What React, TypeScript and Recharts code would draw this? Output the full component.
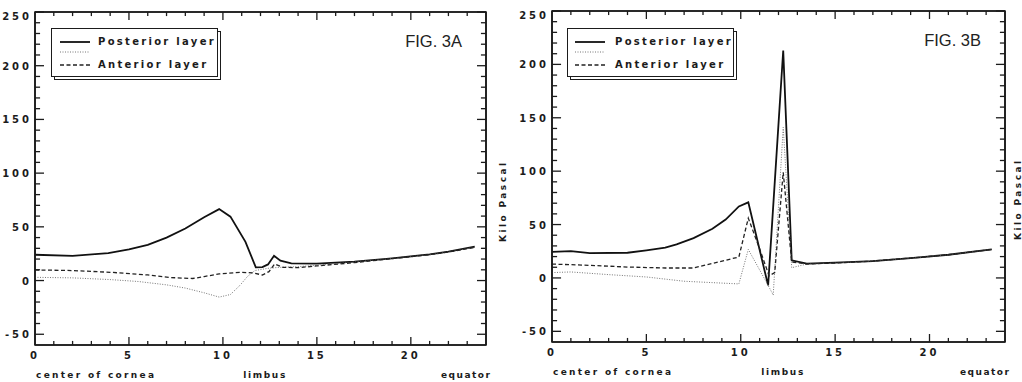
import React from "react";
import { LineChart, Line, XAxis, YAxis, Legend, Label, ReferenceArea, ReferenceLine } from "recharts";

// distance from center of cornea (mm) vs. stress (kilo pascal)
const posteriorA = [
  { x: 0, y: 24 }, { x: 2, y: 23 }, { x: 3.9, y: 25.6 }, { x: 5, y: 29 },
  { x: 6, y: 33.3 }, { x: 7, y: 40 }, { x: 8, y: 48.5 }, { x: 9, y: 59 },
  { x: 9.8, y: 66.5 }, { x: 10.4, y: 59.5 }, { x: 11.2, y: 36 }, { x: 11.75, y: 12.3 },
  { x: 12.1, y: 12.5 }, { x: 12.4, y: 15 }, { x: 12.72, y: 23 }, { x: 13.06, y: 18.5 },
  { x: 13.64, y: 16 }, { x: 15, y: 15.7 }, { x: 17, y: 17.6 }, { x: 19, y: 20.7 },
  { x: 21, y: 24.4 }, { x: 22, y: 26.9 }, { x: 23.4, y: 31.5 },
];
const middleA = [
  { x: 0, y: 3 }, { x: 2, y: 2.5 }, { x: 4, y: 0.9 }, { x: 5.5, y: -0.9 },
  { x: 7, y: -4 }, { x: 8, y: -7 }, { x: 9, y: -11.4 }, { x: 9.8, y: -15.4 },
  { x: 10.4, y: -13 }, { x: 10.9, y: -4.6 }, { x: 11.3, y: 3.7 }, { x: 11.7, y: 9.3 },
  { x: 12.4, y: 11.4 }, { x: 13, y: 12.3 }, { x: 14, y: 13 }, { x: 15, y: 14.2 },
  { x: 17, y: 17.3 }, { x: 19, y: 20.5 }, { x: 21, y: 24 }, { x: 22, y: 26.6 },
  { x: 23.4, y: 31 },
];
const anteriorA = [
  { x: 0, y: 9.9 }, { x: 2, y: 9.3 }, { x: 4, y: 7.7 }, { x: 6, y: 5.2 },
  { x: 7.2, y: 2.8 }, { x: 8.4, y: 1.9 }, { x: 9, y: 3.7 }, { x: 9.8, y: 6.2 },
  { x: 11, y: 7.7 }, { x: 11.6, y: 7.1 }, { x: 12.1, y: 5.2 }, { x: 12.45, y: 8.3 },
  { x: 12.75, y: 15.4 }, { x: 13.2, y: 12.3 }, { x: 14, y: 12 }, { x: 15, y: 13.6 },
  { x: 17, y: 16.7 }, { x: 19, y: 20.4 }, { x: 21, y: 24.1 }, { x: 22, y: 26.5 },
  { x: 23.4, y: 30.9 },
];

const posteriorB = [
  { x: 0, y: 24.5 }, { x: 1, y: 25.2 }, { x: 2, y: 23.3 }, { x: 4, y: 23.6 },
  { x: 5, y: 25.8 }, { x: 6, y: 28.3 }, { x: 6.6, y: 31.4 }, { x: 7.5, y: 37.3 },
  { x: 8.5, y: 46 }, { x: 9.2, y: 54.7 }, { x: 9.9, y: 67 }, { x: 10.4, y: 70.8 },
  { x: 11.45, y: -7 }, { x: 12.25, y: 213 }, { x: 12.7, y: 16.5 }, { x: 13.5, y: 13.4 },
  { x: 15, y: 14.3 }, { x: 17, y: 15.8 }, { x: 19, y: 18.6 }, { x: 21, y: 21.7 },
  { x: 23.3, y: 26.7 },
];
const middleB = [
  { x: 0, y: 5 }, { x: 1, y: 5.6 }, { x: 3, y: 3.1 }, { x: 5, y: 0.9 },
  { x: 7, y: -3.1 }, { x: 9.9, y: -5.6 }, { x: 10.4, y: 26.7 }, { x: 11.4, y: -5.3 },
  { x: 11.72, y: -16 }, { x: 12.25, y: 141 }, { x: 12.7, y: 9.6 }, { x: 13.5, y: 13 },
  { x: 15, y: 14 }, { x: 17, y: 15.8 }, { x: 19, y: 18.6 }, { x: 21, y: 21.7 },
  { x: 23.3, y: 26.7 },
];
const anteriorB = [
  { x: 0, y: 13 }, { x: 2, y: 11.8 }, { x: 4, y: 10.2 }, { x: 6, y: 9.3 },
  { x: 7.5, y: 9.3 }, { x: 9.9, y: 19.6 }, { x: 10.4, y: 56 }, { x: 11, y: 27.3 },
  { x: 11.5, y: 2 }, { x: 11.8, y: 5 }, { x: 12.25, y: 99 }, { x: 12.7, y: 15 },
  { x: 13.5, y: 13 }, { x: 15, y: 14 }, { x: 17, y: 15.8 }, { x: 19, y: 18.6 },
  { x: 21, y: 21.7 }, { x: 23.3, y: 26.7 },
];

const xTicks = [0, 1, 2, 3, 4, 5, 6, 7, 8, 9, 10, 11, 12, 13, 14, 15, 16, 17, 18, 19, 20, 21, 22, 23];
const xLabels = [0, 5, 10, 15, 20];
const yTicks = [-50, -40, -30, -20, -10, 0, 10, 20, 30, 40, 50, 60, 70, 80, 90, 100, 110, 120, 130, 140, 150, 160, 170, 180, 190, 200, 210, 220, 230, 240, 250];
const yLabels = [-50, 0, 50, 100, 150, 200, 250];
const legendOrder = ["Posterior layer", "", "Anterior layer"];

const INK = "#1b1b1b";
const TM = 6;
const X_MIN = 0;
const X_MAX = 24;
const Y_MIN = -60;
const Y_MAX = 250;
const boldFont = "'DejaVu Sans', Verdana, sans-serif";

// tick mark lengths, in axis units (≈ 4/8 px vertically, 5/9 px horizontally)
const X_TICK_LEN = { minor: 3.8, major: 7.5 };
const Y_TICK_LEN = { minor: 0.27, major: 0.48 };

function BottomTick(props: any) {
  const { x, y, payload } = props;
  const v = payload.value;
  if (!xLabels.includes(v)) return <g />;
  return (
    <text x={x} y={y - TM + 14} textAnchor="middle" fill={INK} fontFamily={boldFont} fontWeight={700} fontSize={10} letterSpacing={3}>
      {v}
    </text>
  );
}

function LeftTick(props: any) {
  const { x, y, payload } = props;
  const v = payload.value;
  if (!yLabels.includes(v)) return <g />;
  return (
    <text x={x + TM - 3} y={v === 250 ? y + 4 : y} dy={4} textAnchor="end" fill={INK} fontFamily={boldFont} fontWeight={700} fontSize={10} letterSpacing={3}>
      {v}
    </text>
  );
}

function LegendBox(props: any) {
  const { payload, sampleLeft, textLeft } = props;
  const rowTops = [7, 17, 30];
  const items = [...(payload || [])].sort(
    (a: any, b: any) => legendOrder.indexOf(a.payload?.name ?? "") - legendOrder.indexOf(b.payload?.name ?? "")
  );
  return (
    <div style={{ position: "relative", width: 170, height: 52 }}>
      <div style={{ position: "absolute", left: 3, top: 3, width: 167, height: 49, border: `1.5px solid ${INK}`, boxSizing: "border-box", background: "#fff" }} />
      <div style={{ position: "absolute", left: 0, top: 0, width: 167, height: 49, border: `1.5px solid ${INK}`, boxSizing: "border-box", background: "#fff" }}>
        {items.map((entry: any, i: number) => {
          const p = entry.payload || {};
          return (
            <div key={i} style={{ position: "absolute", top: rowTops[i], left: 0, height: 12, width: 165 }}>
              <svg width={40} height={12} style={{ position: "absolute", left: sampleLeft, top: 0 }}>
                <line x1={0} x2={30} y1={6} y2={6} stroke={p.stroke} strokeWidth={p.strokeWidth} strokeDasharray={p.strokeDasharray} />
              </svg>
              <span style={{ position: "absolute", left: textLeft, top: -1, fontFamily: boldFont, fontWeight: 700, fontSize: 10, letterSpacing: 2.3, color: INK, whiteSpace: "nowrap", lineHeight: "14px" }}>
                {p.name}
              </span>
            </div>
          );
        })}
      </div>
    </div>
  );
}

type PanelProps = {
  posterior: { x: number; y: number }[];
  middle: { x: number; y: number }[];
  anterior: { x: number; y: number }[];
  fig: string;
  top: number;
  right: number;
  yWidth: number;
  xHeight: number;
  legendLeft: number;
  sampleLeft: number;
  textLeft: number;
  unitOffset: number;
};

function Panel(p: PanelProps) {
  const tickStyle = { stroke: INK, strokeWidth: 1.3, ifOverflow: "visible" as const };
  return (
    <LineChart width={511} height={382} margin={{ top: p.top - 1, right: p.right - 1, bottom: 0, left: 0 }}>
      <XAxis
        dataKey="x"
        type="number"
        domain={[X_MIN, X_MAX]}
        ticks={xTicks}
        interval={0}
        height={p.xHeight}
        tickSize={0}
        tickMargin={TM}
        tickLine={false}
        tick={BottomTick}
        stroke={INK}
        strokeWidth={1.6}
      >
        <Label
          content={(lp: any) => {
            const vb = lp.viewBox;
            const base = vb.y + 33;
            const txt = { fill: INK, fontFamily: boldFont, fontWeight: 700, fontSize: 9, lengthAdjust: "spacing" as const };
            return (
              <g>
                <text x={vb.x + 1} y={base} textLength={118} {...txt}>center of cornea</text>
                <text x={vb.x + vb.width * (12.2 / 24) - 21} y={base} textLength={42} {...txt}>limbus</text>
                <text x={vb.x + vb.width + 4 - 49} y={base} textLength={49} {...txt}>equator</text>
              </g>
            );
          }}
        />
      </XAxis>
      <XAxis
        xAxisId="top"
        orientation="top"
        type="number"
        domain={[X_MIN, X_MAX]}
        height={1}
        tick={false}
        tickLine={false}
        stroke={INK}
        strokeWidth={1.6}
      >
        <Label
          content={(lp: any) => {
            const vb = lp.viewBox;
            return (
              <text x={vb.x + vb.width - 24} y={vb.y + 36} textAnchor="end" fill="#222" fontFamily="'Liberation Sans', Arial, sans-serif" fontSize={16.5}>
                {p.fig}
              </text>
            );
          }}
        />
      </XAxis>
      <YAxis
        type="number"
        domain={[Y_MIN, Y_MAX]}
        ticks={yTicks}
        interval={0}
        width={p.yWidth}
        tickSize={0}
        tickMargin={TM}
        tickLine={false}
        tick={LeftTick}
        stroke={INK}
        strokeWidth={1.6}
      />
      <YAxis
        yAxisId="right"
        orientation="right"
        type="number"
        domain={[Y_MIN, Y_MAX]}
        width={1}
        tick={false}
        tickLine={false}
        stroke={INK}
        strokeWidth={1.6}
      >
        <Label
          content={(lp: any) => {
            const vb = lp.viewBox;
            const cx = vb.x + p.unitOffset;
            const cy = vb.y + vb.height / 2 + 24;
            return (
              <text x={cx} y={cy} transform={`rotate(-90 ${cx} ${cy})`} textAnchor="middle" dy={3} fill={INK} fontFamily={boldFont} fontWeight={700} fontSize={9} textLength={79} lengthAdjust="spacing">
                Kilo Pascal
              </text>
            );
          }}
        />
      </YAxis>

      {/* plot frame */}
      <ReferenceArea x1={X_MIN} x2={X_MAX} y1={Y_MIN} y2={Y_MAX} fill="none" fillOpacity={0} stroke={INK} strokeWidth={1.6} ifOverflow="visible" />

      {/* inward ticks on bottom and top */}
      {xTicks.filter((v) => v > X_MIN).map((v) => {
        const len = xLabels.includes(v) ? X_TICK_LEN.major : X_TICK_LEN.minor;
        return (
          <ReferenceLine key={`xb${v}`} segment={[{ x: v, y: Y_MIN }, { x: v, y: Y_MIN + len }]} {...tickStyle} />
        );
      })}
      {xTicks.filter((v) => v > X_MIN).map((v) => {
        const len = xLabels.includes(v) ? X_TICK_LEN.major : X_TICK_LEN.minor;
        return (
          <ReferenceLine key={`xt${v}`} segment={[{ x: v, y: Y_MAX }, { x: v, y: Y_MAX - len }]} {...tickStyle} />
        );
      })}
      {/* inward ticks on left and right */}
      {yTicks.map((v) => {
        const len = yLabels.includes(v) ? Y_TICK_LEN.major : Y_TICK_LEN.minor;
        return (
          <ReferenceLine key={`yl${v}`} segment={[{ x: X_MIN, y: v }, { x: X_MIN + len, y: v }]} {...tickStyle} />
        );
      })}
      {yTicks.map((v) => {
        const len = yLabels.includes(v) ? Y_TICK_LEN.major : Y_TICK_LEN.minor;
        return (
          <ReferenceLine key={`yr${v}`} segment={[{ x: X_MAX, y: v }, { x: X_MAX - len, y: v }]} {...tickStyle} />
        );
      })}

      <Legend
        layout="vertical"
        align="center"
        verticalAlign="middle"
        wrapperStyle={{ left: p.legendLeft, top: 28, width: "auto", height: "auto" }}
        content={(lp: any) => <LegendBox {...lp} sampleLeft={p.sampleLeft} textLeft={p.textLeft} />}
      />
      <Line data={p.posterior} dataKey="y" name="Posterior layer" type="linear" stroke="#111" strokeWidth={1.8} dot={false} activeDot={false} isAnimationActive={false} />
      <Line data={p.middle} dataKey="y" name="" type="linear" stroke="#666" strokeWidth={0.9} strokeDasharray="1 1.5" dot={false} activeDot={false} isAnimationActive={false} />
      <Line data={p.anterior} dataKey="y" name="Anterior layer" type="linear" stroke="#222" strokeWidth={1.3} strokeDasharray="4 2.5" dot={false} activeDot={false} isAnimationActive={false} />
    </LineChart>
  );
}

export default function App() {
  return (
    <div style={{ position: "absolute", left: 0, top: 0, width: 1022, height: 382, display: "flex", background: "#fff", overflow: "hidden" }}>
      <Panel
        posterior={posteriorA}
        middle={middleA}
        anterior={anteriorA}
        fig="FIG. 3A"
        top={12}
        right={25}
        yWidth={35}
        xHeight={37}
        legendLeft={51}
        sampleLeft={8}
        textLeft={46}
        unitOffset={17}
      />
      <Panel
        posterior={posteriorB}
        middle={middleB}
        anterior={anteriorB}
        fig="FIG. 3B"
        top={11}
        right={17}
        yWidth={41}
        xHeight={40}
        legendLeft={56}
        sampleLeft={7}
        textLeft={47}
        unitOffset={13}
      />
    </div>
  );
}
